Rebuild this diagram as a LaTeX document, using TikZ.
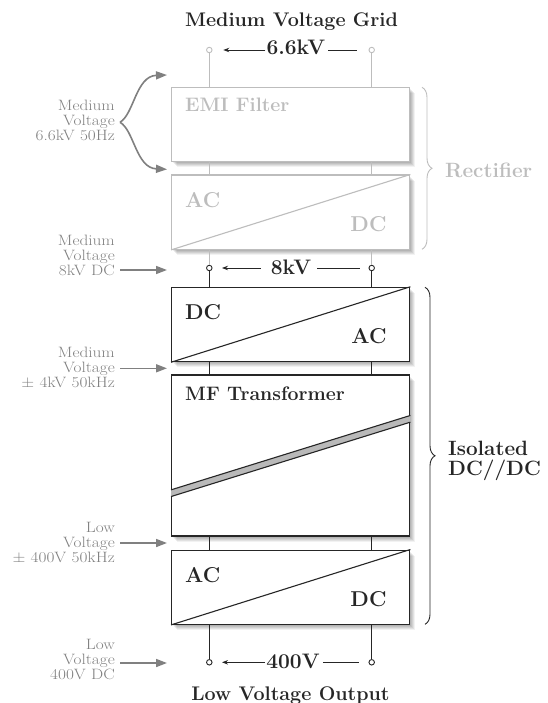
\documentclass[tikz,border=0pt]{standalone}
\usepackage{graphicx}
\usetikzlibrary{calc,decorations.pathreplacing,arrows.meta,shadows}
\definecolor{lightg}{gray}{0.74}
\definecolor{labg}{gray}{0.5}
\definecolor{darkl}{gray}{0.15}
\newcommand\bxfont{\fontsize{21.5}{24}\selectfont\bfseries}
\newcommand\mffont{\fontsize{19.5}{22}\selectfont\bfseries}
\newcommand\ttlfont{\fontsize{19.7}{22}\selectfont\bfseries}
\newcommand\vfont{\fontsize{21}{24}\selectfont\bfseries}
\newcommand\sidefont{\fontsize{20.7}{20}\selectfont\bfseries}
\newcommand\sidetext[1]{{\fontsize{15}{15}\selectfont\scalebox{1.15}[1]{\begin{tabular}{@{}r@{}}#1\end{tabular}}}}
\tikzset{
 softshadow/.style={
   general shadow={fill=black,opacity=.07,shadow xshift=1.5pt,shadow yshift=-1.5pt},
   general shadow={fill=black,opacity=.07,shadow xshift=2.5pt,shadow yshift=-2.5pt},
   general shadow={fill=black,opacity=.07,shadow xshift=3.5pt,shadow yshift=-3.5pt},
   general shadow={fill=black,opacity=.07,shadow xshift=4.5pt,shadow yshift=-4.5pt},
   general shadow={fill=black,opacity=.05,shadow xshift=5.5pt,shadow yshift=-5.5pt}},
 convbox/.style={draw=darkl,line width=1.1pt,fill=white,minimum width=238.2pt,inner sep=0pt,softshadow},
 greybox/.style={convbox,draw=lightg},
 boxtext/.style={font=\bxfont,text=darkl,inner sep=0pt},
 greytext/.style={boxtext,text=lightg},
 sidelabel/.style={text=labg,anchor=east,inner sep=0pt},
 feed/.style={draw=labg,line width=1.6pt,-{Triangle[length=11pt,width=8pt]}},
 wireb/.style={draw=darkl,line width=1pt},
 wireg/.style={draw=lightg,line width=1pt},
 term/.style={circle,draw=darkl,line width=0.9pt,fill=white,inner sep=0pt,minimum size=5.5pt},
 termg/.style={term,draw=lightg},
 vlab/.style={font=\vfont,text=darkl,inner sep=0pt,anchor=base},
 ttl/.style={font=\ttlfont,text=darkl,inner sep=0pt,anchor=base},
 varrow/.style={draw=darkl,line width=0.9pt,-{Stealth[length=6pt,width=4.5pt]}},
 vline/.style={draw=darkl,line width=0.9pt},
 bracestyle/.style={decorate,decoration={brace,amplitude=10pt},line width=0.9pt}
}
\begin{document}
\begin{tikzpicture}[x=1pt,y=-1pt]
\useasboundingbox (0,0) rectangle (547,703);
% boxes
\node[greybox,minimum height=74.4pt] (emi) at (290.7,124.5) {};
\node[greybox,minimum height=74.3pt] (rect) at (290.7,212.2) {};
\node[convbox,minimum height=74.4pt] (dcac) at (290.7,324.5) {};
\node[convbox,minimum height=161pt] (mf) at (290.7,455.5) {};
\node[convbox,minimum height=74.3pt] (acdc) at (290.7,587.2) {};
% diagonals
\draw[lightg,line width=1.1pt] (rect.south west) -- (rect.north east);
\draw[darkl,line width=1.1pt] (dcac.south west) -- (dcac.north east);
\draw[darkl,line width=1.1pt] (acdc.south west) -- (acdc.north east);
% transformer band
\coordinate (bul) at ($(mf.south west)+(0,-46.7)$);
\coordinate (bur) at ($(mf.north east)+(0,41)$);
\coordinate (bll) at ($(mf.south west)+(0,-40)$);
\coordinate (blr) at ($(mf.north east)+(0,47.7)$);
\fill[gray!55] (bul) -- (bur) -- (blr) -- (bll) -- cycle;
\draw[darkl,line width=1.1pt] (bul) -- (bur) (bll) -- (blr);
% box texts
\node[greytext,font=\mffont,anchor=base west] (emit) at (185,111.7) {EMI Filter};
\node[greytext,anchor=base west] (rac) at (185,207.4) {AC};
\node[greytext,anchor=base east] (rdc) at (386.7,231.2) {DC};
\node[boxtext,anchor=base west] (ddc) at (185,319.5) {DC};
\node[boxtext,anchor=base east] (dac) at (386.7,343.8) {AC};
\node[boxtext,font=\mffont,anchor=base west] (mft) at (185,400.7) {MF Transformer};
\node[boxtext,anchor=base west] (aac) at (185,582.4) {AC};
\node[boxtext,anchor=base east] (adc) at (386.7,606.2) {DC};
% terminals
\node[termg] (t1l) at (209.3,50) {};
\node[termg] (t1r) at (371.7,50) {};
\node[term] (t2l) at (209.3,268) {};
\node[term] (t2r) at (371.7,268) {};
\node[term] (t3l) at (209.3,662.3) {};
\node[term] (t3r) at (371.7,662.3) {};
% wires
\foreach \s in {l,r}{
  \draw[wireg] (t1\s) -- (t1\s |- emi.north);
  \draw[wireg] (t1\s |- emi.south) -- (t1\s |- rect.north);
  \draw[wireg] (t2\s |- rect.south) -- (t2\s);
  \draw[wireb] (t2\s) -- (t2\s |- dcac.north);
  \draw[wireb] (t2\s |- dcac.south) -- (t2\s |- mf.north);
  \draw[wireb] (t2\s |- mf.south) -- (t2\s |- acdc.north);
  \draw[wireb] (t3\s |- acdc.south) -- (t3\s);
}
% titles
\node[ttl] (top) at (291.5,26.7) {Medium Voltage Grid};
\node[ttl] (bot) at (290.5,700) {Low Voltage Output};
% voltage labels
\node[vlab] (v1) at (295.8,55) {6.6kV};
\coordinate (v1tip) at (223.3,50);
\coordinate (v1end) at (356.7,50);
\draw[varrow] ($(v1.west |- v1tip)+(-1,0)$) -- (v1tip);
\draw[vline] ($(v1.east |- v1end)+(3,0)$) -- (v1end);
\node[vlab] (v2) at (291,274) {8kV};
\coordinate (v2tip) at (222,268);
\coordinate (v2end) at (360,268);
\draw[varrow] ($(v2.west |- v2tip)+(-10,0)$) -- (v2tip);
\draw[vline] ($(v2.east |- v2end)+(6,0)$) -- (v2end);
\node[vlab] (v3) at (293,668.3) {400V};
\coordinate (v3tip) at (222,662.3);
\coordinate (v3end) at (359,662.3);
\draw[varrow] ($(v3.west |- v3tip)+(-1,0)$) -- (v3tip);
\draw[vline] ($(v3.east |- v3end)+(3,0)$) -- (v3end);
% side labels
\node[sidelabel] (l1) at (115,123) {\sidetext{Medium\\Voltage\\6.6kV 50Hz}};
\node[sidelabel] (l2) at (115,257.5) {\sidetext{Medium\\Voltage\\8kV DC}};
\node[sidelabel] (l3) at (115,369) {\sidetext{Medium\\Voltage\\$\pm$ 4kV 50kHz}};
\node[sidelabel] (l4) at (115,544) {\sidetext{Low\\Voltage\\$\pm$ 400V 50kHz}};
\node[sidelabel] (l5) at (115,661) {\sidetext{Low\\Voltage\\400V DC}};
% feed arrows
\coordinate (a1s) at (120,122.3);
\coordinate (a1t) at (167,75);
\coordinate (a1b) at (167,169.3);
\draw[feed] (a1s) .. controls (134,114) and (136,76) .. (a1t);
\draw[feed] (a1s) .. controls (134,130) and (136,168) .. (a1b);
\coordinate (a2s) at (120,270); \coordinate (a2t) at (167,270);
\draw[feed] (a2s) -- (a2t);
\coordinate (a3s) at (120,368.3); \coordinate (a3t) at (167,368.3);
\draw[feed] (a3s) -- (a3t);
\coordinate (a4s) at (120,543); \coordinate (a4t) at (167,543);
\draw[feed] (a4s) -- (a4t);
\coordinate (a5s) at (120,663); \coordinate (a5t) at (167,663);
\draw[feed] (a5s) -- (a5t);
% braces
\coordinate (b1a) at (422,87.3); \coordinate (b1b) at (422,249.3);
\draw[bracestyle,lightg] (b1a) -- (b1b);
\node[font=\sidefont,text=lightg,anchor=base west,inner sep=0pt] (rectl) at (445,178) {Rectifier};
\coordinate (b2a) at (425,287.3); \coordinate (b2b) at (425,624.3);
\draw[bracestyle,darkl] (b2a) -- (b2b);
\node[font=\sidefont,text=darkl,anchor=base west,inner sep=0pt] (isol1) at (448,455) {Isolated};
\node[font=\sidefont,text=darkl,anchor=base west,inner sep=0pt] (isol2) at (448,475) {DC//DC};
\end{tikzpicture}
\end{document}
